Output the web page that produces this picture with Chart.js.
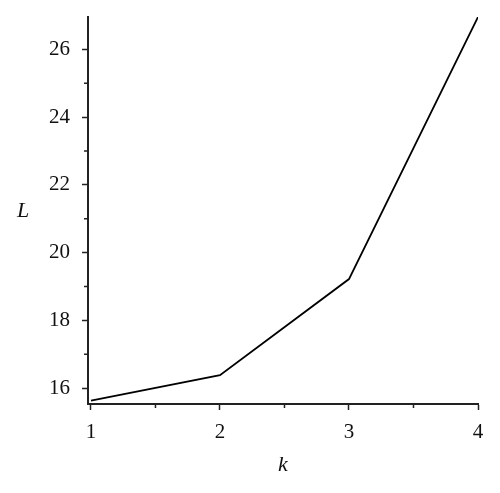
<!DOCTYPE html>
<html>
<head>
<meta charset="utf-8">
<script src="https://cdn.jsdelivr.net/npm/chart.js@4.4.1/dist/chart.umd.min.js"></script>
<style>
  html, body { margin: 0; padding: 0; background: #fff; }
  #wrap { width: 500px; height: 493px; }
</style>
</head>
<body>
<div id="wrap"><canvas id="chart"></canvas></div>
<script>
// data
const kValues = [1, 2, 3, 4];
const lValues = [15.63, 16.38, 19.22, 26.96];

const xMajor = [1, 2, 3, 4];
const xMinor = [1.5, 2.5, 3.5];
const yMajor = [16, 18, 20, 22, 24, 26];
const yMinor = [17, 19, 21, 23, 25];

const xTitle = 'k';
const yTitle = 'L';

const FONT = "'Liberation Serif', 'DejaVu Serif', serif";

// minor ticks + unrotated axis titles
const extras = {
  id: 'extras',
  afterDraw(chart) {
    const ctx = chart.ctx;
    const xs = chart.scales.x, ys = chart.scales.y;
    const area = chart.chartArea;
    ctx.save();
    ctx.strokeStyle = '#222';
    ctx.lineWidth = 1.5;
    ctx.beginPath();
    xMinor.forEach(v => {
      const px = xs.getPixelForValue(v);
      ctx.moveTo(px, area.bottom);
      ctx.lineTo(px, area.bottom + 4);
    });
    yMinor.forEach(v => {
      const py = ys.getPixelForValue(v);
      ctx.moveTo(area.left, py);
      ctx.lineTo(area.left - 4, py);
    });
    ctx.stroke();

    ctx.fillStyle = '#111';
    ctx.font = 'italic 22px ' + FONT;
    ctx.textAlign = 'center';
    ctx.textBaseline = 'middle';
    ctx.fillText(xTitle, (area.left + area.right) / 2, 465);
    ctx.fillText(yTitle, 23, 211);
    ctx.restore();
  }
};

const noPad = s => { s.paddingTop = 0; s.paddingBottom = 0; s.paddingLeft = 0; s.paddingRight = 0; };

new Chart(document.getElementById('chart'), {
  type: 'line',
  data: {
    datasets: [{
      data: kValues.map((k, i) => ({ x: k, y: lValues[i] })),
      borderColor: '#000',
      borderWidth: 1.8,
      pointRadius: 0,
      tension: 0,
      fill: false
    }]
  },
  options: {
    responsive: true,
    maintainAspectRatio: false,
    animation: false,
    layout: { padding: { top: 17, right: 22, left: 0, bottom: 0 } },
    plugins: { legend: { display: false }, tooltip: { enabled: false } },
    scales: {
      x: {
        type: 'linear',
        min: 0.977,
        max: 4,
        afterBuildTicks: s => { s.ticks = xMajor.map(v => ({ value: v })); },
        afterFit: s => { s.height = 89; noPad(s); },
        ticks: { color: '#111', font: { family: FONT, size: 21 }, padding: 10, maxRotation: 0 },
        grid: { drawOnChartArea: false, tickLength: 6, tickWidth: 1.5, tickColor: '#222' },
        border: { color: '#222', width: 2 }
      },
      y: {
        type: 'linear',
        min: 15.53,
        max: 26.96,
        afterBuildTicks: s => { s.ticks = yMajor.map(v => ({ value: v })); },
        afterFit: s => { s.width = 88; noPad(s); },
        ticks: { color: '#111', font: { family: FONT, size: 21 }, padding: 12 },
        grid: { drawOnChartArea: false, tickLength: 6, tickWidth: 1.5, tickColor: '#222' },
        border: { color: '#222', width: 2 }
      }
    }
  },
  plugins: [extras]
});
</script>
</body>
</html>
